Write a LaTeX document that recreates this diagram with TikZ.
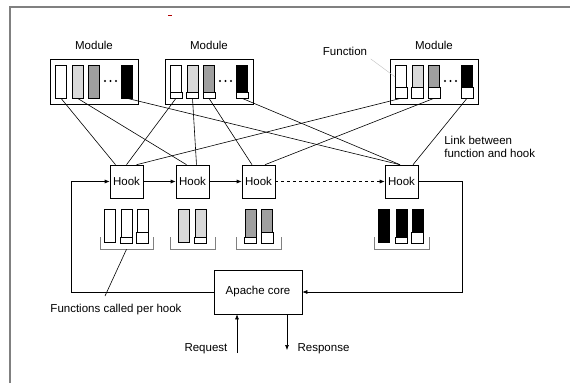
\documentclass[tikz,border=0pt]{standalone}
\usepackage{fontspec}
\setmainfont{Liberation Sans}
\usetikzlibrary{arrows.meta}

\tikzset{
  fn/.style={draw, minimum width=11pt, minimum height=33pt, inner sep=0pt},
  modbox/.style={draw, minimum width=88pt, minimum height=45pt, inner sep=0pt},
  hookbox/.style={draw, minimum width=33pt, minimum height=33pt, inner sep=0pt},
  flow/.style={-{Latex[length=5pt,width=4pt]}},
  brace/.style={gray, line width=0.8pt},
}
\colorlet{lightfn}{gray!30}
\colorlet{darkfn}{gray!75}

% white lower part of a function
\newcommand{\fnsplit}[2]{\draw[fill=white] (#1.south west) rectangle ([yshift=#2pt]#1.south east);}
% bracket under the functions of one hook
\newcommand{\grp}[2]{\draw[brace] ([xshift=-#2pt,yshift=-39pt]#1.south) -- ++(0,12) -- ([xshift=#2pt,yshift=-51pt]#1.south) -- ++(0,-12);}

\begin{document}
\begin{tikzpicture}[x=1pt,y=-1pt,font=\fontsize{11.5}{13}\selectfont,line width=0.6pt]
        \useasboundingbox (0,0) rectangle (570,383);
        \draw[gray, line width=1.5pt] (10,383) -- (10,7) -- (570,7);
        \draw[red!70!black, line width=1pt] (168,15) -- (172,15);

        % modules
        \node[modbox] (mod1) at (94,81.5) {};
        \node[modbox] (mod2) at (209,81.5) {};
        \node[modbox] (mod3) at (434,81.5) {};
        \node (lab1) at (94,45) {Module};
        \node (lab2) at (209,45) {Module};
        \node (lab3) at (434,45) {Module};
        \foreach \m/\x in {1/50,2/165,3/390}{
          \node[fn] (m\m-a) at (\x+11,81.5) {};
          \node[fn,fill=lightfn] (m\m-b) at (\x+27.5,81.5) {};
          \node[fn,fill=darkfn] (m\m-c) at (\x+44,81.5) {};
          \node[fn,fill=black] (m\m-d) at (\x+77,81.5) {};
          \foreach \d in {55,60.5,66}
            \fill (\x+\d,81) circle (1.1pt);
        }
        \foreach \f in {a,b,c,d}{
          \fnsplit{m2-\f}{6}
          \fnsplit{m3-\f}{11}
        }
        \node (fnlab) at (345,51) {Function};
        \draw[gray!50, line width=0.4pt] (fnlab.south east) -- ([yshift=4.5pt]m3-a.west);

        % hooks
        \node[hookbox] (hk1) at (126.5,181.5) {Hook};
        \node[hookbox] (hk2) at (192.5,181.5) {Hook};
        \node[hookbox] (hk3) at (258.5,181.5) {Hook};
        \node[hookbox] (hk4) at (401.5,181.5) {Hook};

        % links between function and hook
        \draw (m1-a.south) -- ([xshift=-11pt]hk1.north);
        \draw (m2-a.south) -- (hk1.north);
        \draw (m3-a.south) -- ([xshift=10pt]hk1.north);
        \draw (m1-b.south) -- ([xshift=-6pt]hk2.north);
        \draw (m2-b.south) -- ([xshift=4pt]hk2.north);
        \draw (m2-c.south) -- ([xshift=-6.5pt]hk3.north);
        \draw (m3-c.south) -- ([xshift=6.5pt]hk3.north);
        \draw (m1-d.south) -- ([xshift=-1.5pt]hk4.north);
        \draw (m2-d.south) -- ([xshift=-1.5pt]hk4.north);
        \draw (m3-d.south) -- ([xshift=11.5pt]hk4.north);
        \node[anchor=west, align=left, inner sep=0pt] (linklab) at (444,146.5) {Link between\\function and hook};

        % functions called per hook
        \node[fn] (g1a) at (110,226) {};
        \node[fn] (g1b) at (126.5,226) {};
        \node[fn] (g1c) at (142.5,226) {};
        \fnsplit{g1b}{6} \fnsplit{g1c}{11}
        \node[fn,fill=lightfn] (g2a) at (183.5,226) {};
        \node[fn,fill=lightfn] (g2b) at (200.5,226) {};
        \fnsplit{g2b}{6}
        \node[fn,fill=darkfn] (g3a) at (250.5,226) {};
        \node[fn,fill=darkfn] (g3b) at (267,226) {};
        \fnsplit{g3a}{6} \fnsplit{g3b}{11}
        \node[fn,fill=black] (g4a) at (384,226) {};
        \node[fn,fill=black] (g4b) at (401.5,226) {};
        \node[fn,fill=black] (g4c) at (417.5,226) {};
        \fnsplit{g4b}{6} \fnsplit{g4c}{11}
        \grp{hk1}{26.5} \grp{hk2}{22.5} \grp{hk3}{22.5} \grp{hk4}{27.5}
        \node (fcplab) at (116,310) {Functions called per hook};
        \coordinate (fcpend) at (105,296);
        \draw ([yshift=-51pt]hk1.south) -- (fcpend);

        % core and the hook chain
        \node[draw, minimum width=88pt, minimum height=44pt] (core) at (258,292) {Apache core};
        \draw[flow] (core.west) -| ([xshift=-38pt]hk1.west) -- (hk1.west);
        \draw[flow] (hk1.east) -- (hk2.west);
        \draw[flow] (hk2.east) -- (hk3.west);
        \draw[flow, dashed] (hk3.east) -- (hk4.west);
        \draw[flow] (hk4.east) -- ([xshift=44pt]hk4.east) |- (core.east);

        \coordinate (req) at (237,353);
        \coordinate (resp) at (287,350);
        \draw[flow] (req) -- (req |- core.south);
        \draw[flow] (resp |- core.south) -- (resp);
        \node[anchor=east] (reqlab) at (231,349) {Request};
        \node[anchor=west] (resplab) at (294,349) {Response};
      \end{tikzpicture}
\end{document}
